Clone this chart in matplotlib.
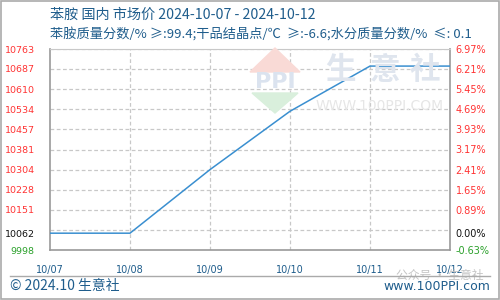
import matplotlib
matplotlib.use("Agg")
import matplotlib.pyplot as plt
import numpy as np
from matplotlib.patches import Polygon, Rectangle
from matplotlib.lines import Line2D

plt.rcParams['font.family'] = ['Noto Sans CJK SC', 'DejaVu Sans']

# ---- data ----
dates = ['10/07', '10/08', '10/09', '10/10', '10/11', '10/12']
prices = [10062, 10062, 10304, 10526, 10698, 10698]
left_ticks = [9998, 10062, 10151, 10228, 10304, 10381, 10457, 10534, 10610, 10687, 10763]
left_labels = ['9998', '10062', '10151', '10228', '10304', '10381', '10457', '10534', '10610', '10687', '10763']
right_labels = ['-0.63%', '0.00%', '0.89%', '1.65%', '2.41%', '3.17%', '3.93%', '4.69%', '5.45%', '6.21%', '6.97%']
title1 = '苯胺 国内 市场价 2024-10-07 - 2024-10-12'
title2 = '苯胺质量分数/% ≥:99.4;干品结晶点/℃  ≥:-6.6;水分质量分数/%  ≤: 0.1'
footer_left = '© 2024.10 生意社'
footer_right = 'www.100PPI.com'

W, H = 500, 300
fig = plt.figure(figsize=(W / 100, H / 100), dpi=100)
fig.patch.set_facecolor('white')

def fx(px):
    return px / W

def fy(py):
    return 1 - py / H

ax = fig.add_axes([fx(50), fy(250), fx(400), (250 - 49) / H])
ax.set_facecolor('none')

x = np.arange(len(dates))
ymin, ymax = left_ticks[0], left_ticks[-1]
ax.set_xlim(x[0], x[-1])
ax.set_ylim(ymin, ymax)

# gridlines
for gy in np.linspace(ymin, ymax, 11)[1:-1]:
    ax.axhline(gy, color='#c8c8c8', lw=0.9, ls=(0, (3, 2)), zorder=1)
ax.axhline(ymax, color='#c8c8c8', lw=0.9, ls=(0, (3, 2)), zorder=1)
for gx in x[1:-1]:
    ax.axvline(gx, color='#c8c8c8', lw=0.9, ls=(0, (3, 2)), zorder=1)

ax.plot(x, prices, color='#3a8fd0', lw=1.1, zorder=3)

for s in ax.spines.values():
    s.set_color('#999999')
    s.set_linewidth(1.2)
ax.spines['top'].set_color('#c8c8c8')
ax.spines['top'].set_linewidth(0.8)

ax.set_xticks(x)
ax.set_xticklabels(dates, family='DejaVu Sans', fontsize=7, color='#1f5d8c')
ax.set_yticks(left_ticks)
ax.set_yticklabels(left_labels, family='DejaVu Sans', fontsize=6.8)
ax.tick_params(axis='x', length=0, pad=11)
ax.tick_params(axis='y', length=0, pad=11)
for i, lab in enumerate(ax.get_yticklabels()):
    lab.set_color('#2aa02a' if i == 0 else ('#111111' if i == 1 else '#ff3333'))

ax2 = ax.twinx()
ax2.set_ylim(ymin, ymax)
ax2.set_yticks(left_ticks)
ax2.set_yticklabels(right_labels, family='DejaVu Sans', fontsize=7)
ax2.tick_params(axis='y', length=0, pad=4)
for s in ax2.spines.values():
    s.set_visible(False)
for i, lab in enumerate(ax2.get_yticklabels()):
    lab.set_color('#2aa02a' if i == 0 else ('#111111' if i == 1 else '#ff3333'))

# watermark: PPI logo
fig.patches.append(Polygon([(fx(250), fy(72)), (fx(275), fy(48)), (fx(300), fy(72))],
                           closed=True, transform=fig.transFigure, color='#f9dad6', zorder=0))
fig.patches.append(Polygon([(fx(252), fy(93)), (fx(298), fy(93)), (fx(275), fy(113))],
                           closed=True, transform=fig.transFigure, color='#d9efdc', zorder=0))
fig.text(fx(275), fy(82), 'PPI', ha='center', va='center', fontsize=16, family='DejaVu Sans',
         color='#dbe3ef', fontweight='bold', zorder=0)
for cx, ch in zip([340, 385, 425], '生意社'):
    fig.text(fx(cx), fy(70), ch, ha='center', va='center', fontsize=22, color='#dfe5ee',
             fontweight='bold', zorder=0)
fig.text(fx(380), fy(106), 'WWW.100PPI.COM', ha='center', va='center', fontsize=10,
         family='DejaVu Sans', color='#e6e6e6', zorder=0)

# titles
fig.text(fx(50), fy(15), title1, ha='left', va='center', fontsize=10.2, color='#1f5d8c')
fig.text(fx(50), fy(35), title2, ha='left', va='center', fontsize=9.5, color='#1f5d8c')

# footer
fig.add_artist(Line2D([fx(10), fx(490)], [fy(276), fy(276)], color='#aaaaaa', lw=1,
                      transform=fig.transFigure))
fig.text(fx(10), fy(286), footer_left, ha='left', va='center', fontsize=10, color='#1f5d8c')
fig.text(fx(490), fy(287), footer_right, ha='right', va='center', fontsize=9,
         family='DejaVu Sans', color='#1f5d8c')
fig.text(fx(483), fy(275), '公众号 · 生意社', ha='right', va='center', fontsize=8.5,
         color='#c4c4c4', zorder=0)

# outer border
fig.patches.append(Rectangle((0.001, 0.002), 0.996, 0.996, transform=fig.transFigure,
                             fill=False, edgecolor='#aaaaaa', lw=1.2))

fig.savefig('out.png', dpi=100)
